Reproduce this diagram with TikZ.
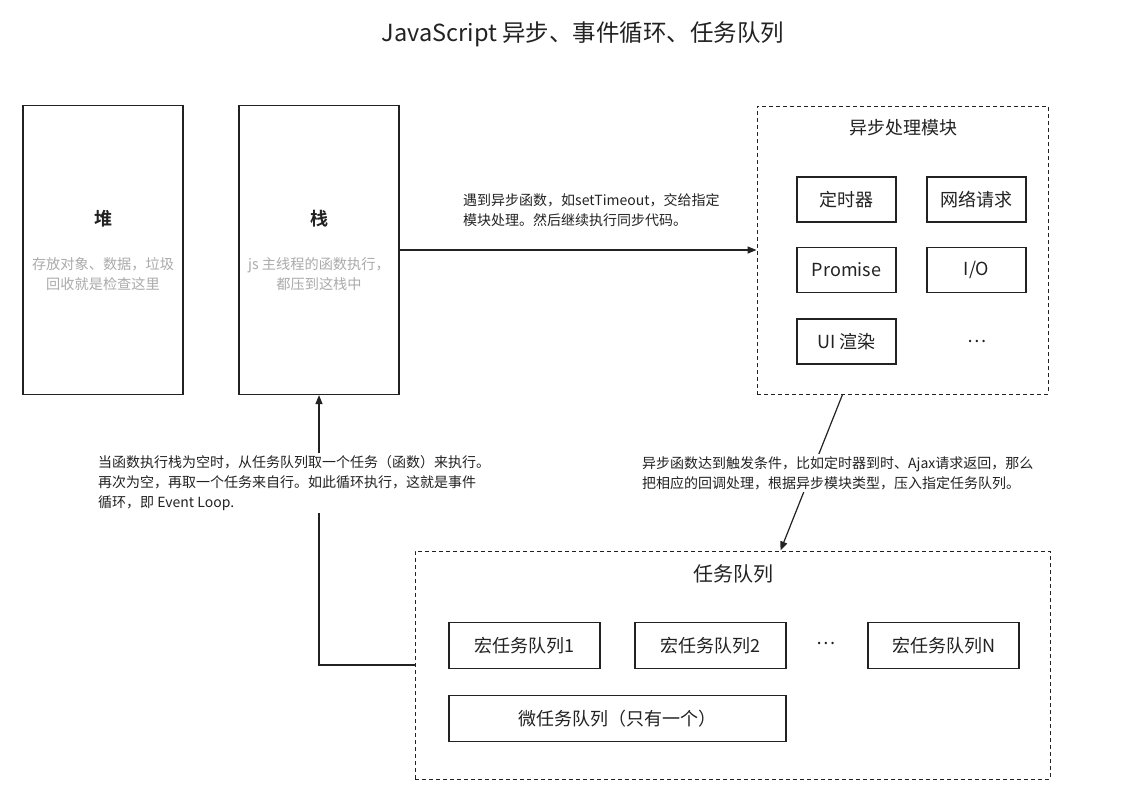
\documentclass[tikz,border=0pt]{standalone}
\usepackage{fontspec}
\setmainfont{Noto Sans CJK SC}[BoldFont={Noto Sans CJK SC Bold}]
\usetikzlibrary{arrows.meta,calc}
\definecolor{ink}{HTML}{222222}
\definecolor{lightgray}{HTML}{ABABAB}
\tikzset{
  box/.style={draw=ink, line width=1.2pt, inner sep=0pt, text=ink},
  dbox/.style={draw=ink, line width=1pt, dash pattern=on 4pt off 3pt, inner sep=0pt},
  tall/.style={box, minimum width=160pt, minimum height=289pt, align=center, font=\fontsize{14.2}{20}\selectfont},
  small/.style={box, minimum width=99pt, minimum height=45pt, font=\fontsize{18}{22}\selectfont},
  qbox/.style={box, minimum width=151pt, minimum height=46pt, font=\fontsize{18}{22}\selectfont},
  note/.style={text=ink, align=left, font=\fontsize{14}{20}\selectfont, inner sep=2pt},
  arr/.style={draw=ink, line width=1.2pt, -{Triangle[length=9pt,width=7pt]}},
}
\begin{document}
\begin{tikzpicture}[x=1pt,y=-1pt]
\useasboundingbox (0,0) rectangle (1142,804);
\fill[white] (0,0) rectangle (1142,804);

\node[text=ink, font=\fontsize{23.5}{28}\selectfont] (title) at (583,34) {JavaScript 异步、事件循环、任务队列};

\node[tall] (heap) at (103,250) {{\bfseries\fontsize{18}{22}\selectfont 堆}\\[24pt]\textcolor{lightgray}{存放对象、数据，垃圾}\\\textcolor{lightgray}{回收就是检查这里}};
\node[tall] (stack) at (319,250) {{\bfseries\fontsize{18}{22}\selectfont 栈}\\[24pt]\textcolor{lightgray}{js 主线程的函数执行，}\\\textcolor{lightgray}{都压到这栈中}};

\node[dbox, minimum width=291pt, minimum height=288pt] (async) at (902.5,250) {};
\node[text=ink, font=\fontsize{18}{22}\selectfont] (asynct) at (903,128) {异步处理模块};
\node[small] (timer) at (846.5,199.5) {定时器};
\node[small] (net) at (976.5,199.5) {网络请求};
\node[small] (prom) at (846.5,270) {Promise};
\node[small] (io) at (976.5,270) {I/O};
\node[small] (ui) at (846.5,341.5) {UI 渲染};
\node[text=ink, font=\fontsize{18}{22}\selectfont] (adots) at (977,341) {…};

\node[dbox, minimum width=635pt, minimum height=228pt] (tq) at (732.5,665) {};
\node[text=ink, font=\fontsize{20}{24}\selectfont] (tqt) at (733,574) {任务队列};
\node[qbox] (m1) at (524.5,645.5) {宏任务队列1};
\node[qbox] (m2) at (710.5,645.5) {宏任务队列2};
\node[text=ink, font=\fontsize{18}{22}\selectfont] (mdots) at (826,643) {…};
\node[qbox] (mn) at (943.5,645.5) {宏任务队列N};
\node[qbox, minimum width=337pt] (micro) at (617.5,718.5) {微任务队列（只有一个）};

% stack -> async
\draw[arr] (stack.east) -- (async.west);
\node[note, anchor=west] (l1) at (461,210) {遇到异步函数，如setTimeout，交给指定\\模块处理。然后继续执行同步代码。};

% async -> task queue
\coordinate (d1) at ($(async.south)+(-60,0)$);
\coordinate (d2) at ($(tq.north)+(48,0)$);
\draw[arr] (d1) -- (d2);
\node[note, fill=white, anchor=west] (l2) at (640,473) {异步函数达到触发条件，比如定时器到时、Ajax请求返回，那么\\把相应的回调处理，根据异步模块类型，压入指定任务队列。};

% task queue -> stack
\draw[arr] (tq.west) -| (stack.south);
\node[note, fill=white, anchor=west] (l3) at (96,483) {当函数执行栈为空时，从任务队列取一个任务（函数）来执行。\\再次为空，再取一个任务来自行。如此循环执行，这就是事件\\循环，即 Event Loop.};
\end{tikzpicture}
\end{document}
